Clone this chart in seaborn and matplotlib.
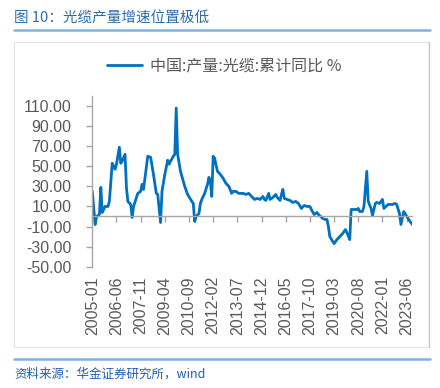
import matplotlib
matplotlib.use('Agg')
import matplotlib.pyplot as plt
import seaborn as sns
import pandas as pd
from matplotlib.patches import Rectangle
from matplotlib.lines import Line2D
from matplotlib.ticker import FormatStrFormatter

# ---------------- data ----------------
dates = [
    "2005-01", "2005-03", "2005-04", "2005-06", "2005-07", "2005-08", "2005-10", "2005-12",
    "2006-01", "2006-03", "2006-05", "2006-06", "2006-08", "2006-09", "2006-10", "2006-12",
    "2007-01", "2007-02", "2007-04", "2007-05", "2007-06", "2007-09", "2007-11", "2007-12",
    "2008-01", "2008-04", "2008-06", "2008-08", "2008-10", "2008-11",
    "2009-01", "2009-02", "2009-04", "2009-06", "2009-07", "2009-08", "2009-10", "2009-11", "2009-12",
    "2010-01", "2010-03", "2010-04", "2010-06", "2010-08", "2010-11", "2010-12",
    "2011-01", "2011-02", "2011-04", "2011-05", "2011-06", "2011-08", "2011-10", "2011-11", "2011-12",
    "2012-01", "2012-02", "2012-03", "2012-05", "2012-07", "2012-09", "2012-11",
    "2013-01", "2013-03", "2013-04", "2013-06", "2013-08", "2013-11",
    "2014-01", "2014-03", "2014-05", "2014-07", "2014-09", "2014-11",
    "2015-01", "2015-02", "2015-03", "2015-05", "2015-06", "2015-08", "2015-10", "2015-11",
    "2016-01", "2016-02", "2016-03", "2016-04", "2016-06", "2016-08", "2016-10", "2016-12",
    "2017-02", "2017-04", "2017-06", "2017-08", "2017-10", "2017-11",
    "2018-01", "2018-03", "2018-04", "2018-07", "2018-09", "2018-10", "2018-11", "2018-12",
    "2019-03", "2019-05", "2019-07", "2019-09", "2019-11", "2019-12",
    "2020-02", "2020-03", "2020-05", "2020-07", "2020-08", "2020-09", "2020-11", "2020-12",
    "2021-02", "2021-03", "2021-05", "2021-06", "2021-08", "2021-09", "2021-11",
    "2022-01", "2022-02", "2022-05", "2022-08", "2022-10", "2022-11",
    "2023-01", "2023-02", "2023-04", "2023-07", "2023-09", "2023-10",
]
values = [
    25, -8, 0, 2, 29, 4, 10, 10,
    15, 53, 47, 52, 69, 53, 55, 62,
    29, 15, 12, -1, 10, 23, 25, 32,
    27, 60, 59, 42, 23, 22,
    -6, 25, 42, 56, 52, 55, 60, 62, 108,
    62, 45, 40, 30, 22, 15, 13,
    -5, 0, 3, 13, 17, 23, 32, 39, 35,
    20, 60, 58, 45, 42, 38, 33,
    30, 23, 25, 25, 23, 23,
    22, 23, 20, 17, 18, 17,
    20, 17, 16, 23, 17, 19, 22, 19,
    16, 22, 27, 18, 17, 16, 14, 15,
    13, 8, 11, 10, 10, 7,
    2, 4, 2, -2, -3, -3, -10, -20,
    -27, -23, -20, -17, -13, -16,
    -23, 7, 7, 7, 8, 5, 5, 10,
    45, 15, 8, 1, 13, 14, 13,
    17, 8, 12, 12, 13, 12,
    3, -8, 5, -2, -6, -8,
]
tick_labels = ["2005-01", "2006-06", "2007-11", "2009-04", "2010-09", "2012-02", "2013-07",
               "2014-12", "2016-05", "2017-10", "2019-03", "2020-08", "2022-01", "2023-06"]
y_ticks = [-50, -30, -10, 10, 30, 50, 70, 90, 110]
series_name = "中国:产量:光缆:累计同比 %"
title_text = "图 10：光缆产量增速位置极低"
source_text = "资料来源：华金证券研究所，wind"


def month_index(s):
    y, m = s.split("-")
    return (int(y) - 2005) * 12 + int(m) - 1


df = pd.DataFrame({"month": [month_index(d) for d in dates], "value": values})

sns.set_theme(style="white")
plt.rcParams["font.family"] = ["Liberation Sans", "Noto Sans CJK SC", "DejaVu Sans"]
CJK = ["Noto Sans CJK SC", "DejaVu Sans"]

W, H = 440, 388
fig = plt.figure(figsize=(W / 100, H / 100), dpi=100)
fig.patch.set_facecolor("white")

x0, x1 = 92.3, 412.3
ytop, ybot = 96.0, 266.7
ax = fig.add_axes([x0 / W, 1 - ybot / H, (x1 - x0) / W, (ybot - ytop) / H])
ax.set_facecolor("none")

line_color = "#0070c0"
sns.lineplot(data=df, x="month", y="value", ax=ax, color=line_color, lw=2.0, legend=False)

ax.set_xlim(0, df["month"].max())
ax.set_ylim(-50, 120)
ax.set_xlabel("")
ax.set_ylabel("")

gray = "#a6a6a6"
txt = "#595959"
for s in ["top", "right"]:
    ax.spines[s].set_visible(False)
ax.spines["left"].set_color(gray)
ax.spines["left"].set_linewidth(1.0)
ax.spines["bottom"].set_color(gray)
ax.spines["bottom"].set_linewidth(1.0)
ax.spines["bottom"].set_position(("data", 0))

ax.set_yticks(y_ticks)
ax.yaxis.set_major_formatter(FormatStrFormatter("%.2f"))
ax.set_xticks([month_index(t) for t in tick_labels])
ax.set_xticklabels(tick_labels)

ax.tick_params(axis="y", direction="out", length=4, width=1, color=gray,
               labelsize=11.5, labelcolor=txt, pad=11, left=True)
ax.tick_params(axis="x", direction="out", length=4, width=1, color=gray,
               labelsize=11.5, labelcolor=txt, pad=39, labelrotation=90, bottom=True)
ax.grid(False)

# legend
handle = Line2D([0], [0], color=line_color, lw=2.0)
fig.legend([handle], [series_name], loc="center", bbox_to_anchor=(224 / W, 1 - 66 / H),
           frameon=False, handlelength=2.2, handletextpad=0.5,
           prop={"family": CJK, "size": 11.5}, labelcolor=txt)

# chart frame
fig.add_artist(Rectangle((14 / W, 1 - 347 / H), (429 - 14) / W, (347 - 42) / H,
                         transform=fig.transFigure, fill=False, edgecolor="#e3e3e3", lw=0.8))
fig.add_artist(Line2D([429 / W, 429 / W], [1 - 347 / H, 1 - 42 / H], transform=fig.transFigure,
                      color="#c8c8c8", lw=1.0))

# title and rules
fig.text(14 / W, 1 - 19 / H, title_text, family=CJK, size=10.5, color="#2e6ca8",
         ha="left", va="center")
fig.add_artist(Line2D([14 / W, 430 / W], [1 - 30 / H, 1 - 30 / H], transform=fig.transFigure,
                      color="#7fb3e0", lw=1.8))
fig.add_artist(Line2D([14 / W, 430 / W], [1 - 359 / H, 1 - 359 / H], transform=fig.transFigure,
                      color="#7fb3e0", lw=1.8))
fig.text(14 / W, 1 - 374 / H, source_text, family=CJK, size=9, color="#1f5fb0",
         style="italic", ha="left", va="center")

fig.savefig("out.png", dpi=100)
